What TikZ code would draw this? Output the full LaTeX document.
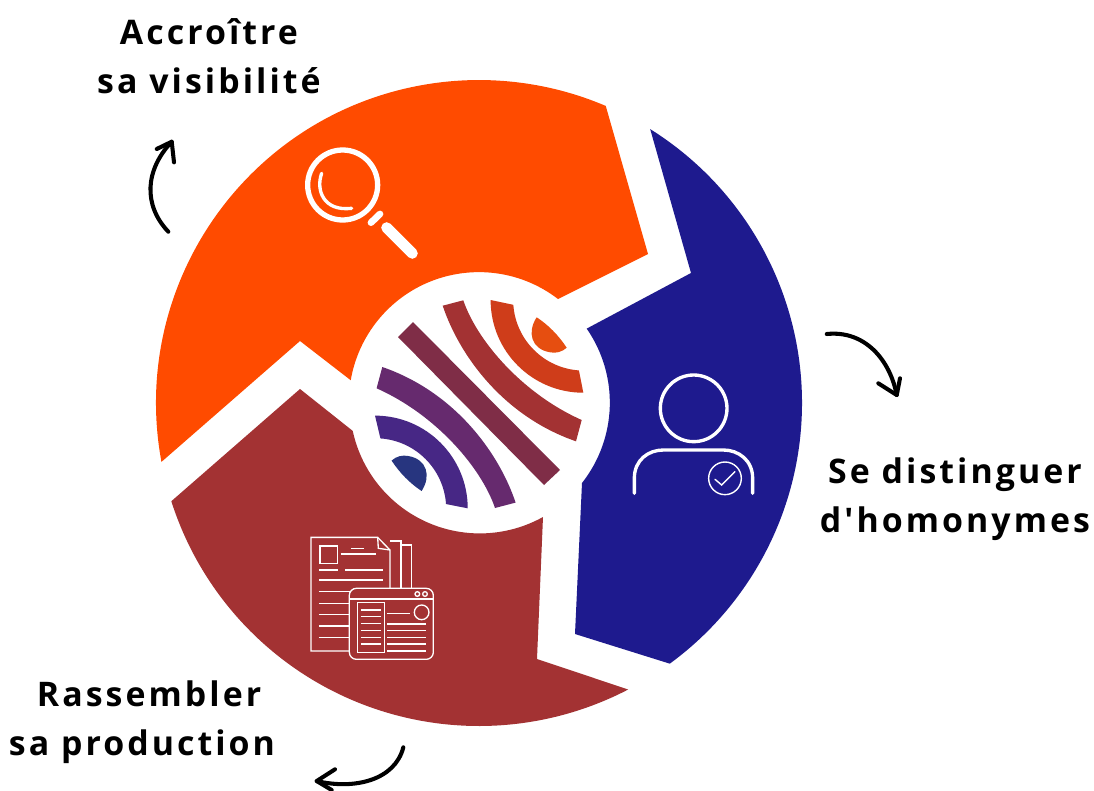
\documentclass[tikz,border=0pt]{standalone}
\usepackage{fontspec}
\newfontfamily\labelfont[LetterSpace=9]{Open Sans}
\definecolor{orangepart}{HTML}{FF4B00}
\definecolor{bluepart}{HTML}{1E1A8E}
\definecolor{redpart}{HTML}{A33233}
\definecolor{logoorange}{HTML}{CF3D1A}
\definecolor{logoeye}{HTML}{E64E10}
\definecolor{logowine}{HTML}{7F2D47}
\definecolor{logopurple}{HTML}{662A6E}
\definecolor{logoviolet}{HTML}{472785}
\definecolor{logonavy}{HTML}{27357F}
\begin{document}
\begin{tikzpicture}[x=1pt, y=1pt, xscale=0.5669, yscale=-0.5669,
		labelstyle/.style={font=\labelfont\bfseries\fontsize{19.2pt}{27.5pt}\selectfont, align=center, inner sep=0pt, text=black},
		arrowstyle/.style={line width=2.3pt, line cap=round, line join=round, black},
		iconstyle/.style={white, line width=1.9pt, line cap=round},
		docstyle/.style={white, line width=0.75pt}]

		\useasboundingbox (0,0) rectangle (1094,791);
		\fill [white] (0,0) rectangle (1094,791);

		\coordinate (bigcentre) at (479,403);
		\coordinate (upcentre) at (583.3,300);
		\coordinate (downcentre) at (375,508.3);

		\fill [orangepart] (bigcentre) ++(169.5:323) arc [start angle=169.5, end angle=293.1, radius=323]
			-- (648,254) -- (558,299)
			arc [start angle=307.5, end angle=189.7, radius=130]
			-- (300,341) -- cycle;
		\fill [bluepart] (bigcentre) ++(-58:323) arc [start angle=-58, end angle=53.8, radius=323]
			-- (575,634) -- (582,483)
			arc [start angle=38.2, end angle=-34.7, radius=130]
			-- (691,273) -- cycle;
		\fill [redpart] (bigcentre) ++(162.3:323) arc [start angle=162.3, end angle=62.5, radius=323]
			-- (537,659) -- (543,517)
			arc [start angle=60.9, end angle=167.8, radius=130]
			-- (300,389) -- cycle;

		\fill [logoorange] (upcentre) ++(180:92.7) arc [start angle=180, end angle=90, radius=92.7]
			-- ++(-4.4,-22.3) arc [start angle=94, end angle=176, radius=70.7] -- cycle;
		\fill [redpart] (463.3,300.3) .. controls (476.7,340) and (521.7,393.3) .. (581.7,420)
			-- (576,441.3) .. controls (503.2,416.2) and (459.2,355.2) .. (442.7,305.7) -- cycle;
		\fill [logowine] (398,337) -- (413,322) -- (560,470) -- (544,485) -- cycle;
		\fill [logopurple] (495,508) .. controls (481.6,468.3) and (436.6,415) .. (376.6,388.3)
			-- (382.3,367) .. controls (455.1,392.1) and (499.1,453.1) .. (515.6,502.6) -- cycle;
		\fill [logoviolet] (downcentre) ++(-90:92.7) arc [start angle=-90, end angle=0, radius=92.7]
			-- ++(-21.7,-4.3) arc [start angle=-4, end angle=-86, radius=70.7] -- cycle;
		\fill [logoeye] (536.7,317.3) .. controls (527,332) and (531,349) .. (550,352.3)
			.. controls (556,353.5) and (562,352) .. (566.7,347.7)
			.. controls (558.3,335) and (548.3,325) .. cycle;
		\fill [logonavy] (421.6,491) .. controls (431.3,476.3) and (427.3,459.3) .. (408.3,456)
			.. controls (402.3,454.8) and (396.3,456.3) .. (391.6,460.6)
			.. controls (400,473.3) and (410,483.3) .. cycle;

		\begin{scope}[shift={(295,140)}, scale=1/3]
			\draw [iconstyle, line width=3pt] (143,135) circle [radius=105];
			\draw [iconstyle] (80,100) .. controls (62,150) and (85,215) .. (170,205);
			\draw [iconstyle, line width=3.8pt] (228,248) -- (255,222);
			\draw [iconstyle, line width=6.2pt] (275,263) -- (352,340);
		\end{scope}

		\begin{scope}[shift={(620,360)}, scale=1/3]
			\draw [iconstyle] (221,145) circle [radius=100];
			\draw [iconstyle] (43,400) -- (43,355) .. controls (43,300) and (85,270) .. (130,270)
				-- (310,270) .. controls (355,270) and (398,300) .. (398,355) -- (398,400);
			\draw [iconstyle, line width=0.8pt] (315,355) circle [radius=49];
			\draw [iconstyle, line width=0.8pt] (285,358) -- (305,375) -- (345,335);
		\end{scope}

		\begin{scope}[shift={(295,525)}, scale=1/3]
			\draw [docstyle] (165,378) -- (48,378) -- (48,37) -- (248,37) -- (285,75) -- (285,190);
			\draw [docstyle] (248,37) -- (250,70) -- (285,75);
			\draw [docstyle] (285,48) -- (318,48) -- (318,190);
			\draw [docstyle] (318,60) -- (350,60) -- (350,190);
			\draw [docstyle] (75,63) rectangle (127,115);
			\draw [docstyle] (168,70) -- (208,70);
			\draw [docstyle] (137,87) -- (243,87);
			\draw [docstyle] (72,135) -- (130,135);
			\draw [docstyle] (150,135) -- (265,135);
			\draw [docstyle] (72,165) -- (265,165);
			\foreach \liney/\lineend in {200/165, 235/163, 268/163, 303/163, 338/163}
				\draw [docstyle] (72,\liney) -- (\lineend,\liney);
			\draw [docstyle, rounded corners=4pt] (163,190) rectangle (415,403);
			\draw [docstyle] (163,222) -- (415,222);
			\draw [docstyle] (367,207) circle [radius=7];
			\draw [docstyle] (390,207) circle [radius=7];
			\draw [docstyle] (188,232) rectangle (268,382);
			\foreach \liney in {255,275,295,317,337,357}
				\draw [docstyle] (198,\liney) -- (258,\liney);
			\draw [docstyle] (277,266) -- (345,266);
			\draw [docstyle] (380,262) circle [radius=22];
			\foreach \liney in {297,317,337,357,378}
				\draw [docstyle] (277,\liney) -- (392,\liney);
		\end{scope}

		\node [labelstyle] (visibilite) at (209,56) {Accroître\\sa visibilité};
		\node [labelstyle] (homonymes) at (955,499) {Se distinguer\\d'homonymes};
		\node [labelstyle] (production) at (142,722) {\hspace*{8pt}Rassembler\\sa production};

		\coordinate (upstart) at (168.3,231.7);
		\coordinate (uptip) at (171.7,141.7);
		\coordinate (rightstart) at (826.7,334);
		\coordinate (righttip) at (896.7,395);
		\coordinate (downstart) at (403.3,747.3);
		\coordinate (downtip) at (316.7,781);

		\draw [arrowstyle] (upstart) .. controls (143,205) and (145,170) .. (uptip);
		\draw [arrowstyle] (156.7,149) -- (uptip) -- (174,162.3);
		\draw [arrowstyle] (rightstart) .. controls (865,330) and (890,360) .. (righttip);
		\draw [arrowstyle] (878.3,383.3) -- (righttip) -- (900,378.3);
		\draw [arrowstyle] (downstart) .. controls (395,780) and (355,790) .. (downtip);
		\draw [arrowstyle] (335,769.3) -- (downtip) -- (331.7,790);
\end{tikzpicture}
\end{document}
